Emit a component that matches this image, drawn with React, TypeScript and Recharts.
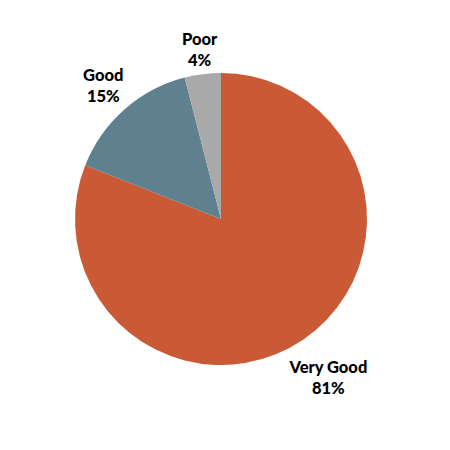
import React from "react";
import { PieChart, Pie, Cell } from "recharts";

const categories = ["Very Good", "Good", "Poor"];
const values = [81, 15, 4];
const percentLabels = ["81%", "15%", "4%"];

const COLORS = ["#C95A35", "#5E808F", "#A9A9A9"];
const LABEL_RADIUS = [191, 178, 171];

const data = categories.map((name, i) => ({ name, value: values[i], label: percentLabels[i] }));

const RAD = Math.PI / 180;

const renderLabel = (props: any) => {
  const { cx, cy, midAngle, index } = props;
  const r = LABEL_RADIUS[index];
  const x = cx + r * Math.cos(-midAngle * RAD);
  const y = cy + r * Math.sin(-midAngle * RAD);
  return (
    <text
      x={x}
      y={y}
      textAnchor="middle"
      fontFamily="Lato, 'Open Sans', sans-serif"
      fontWeight={900}
      fontSize={16.5}
      fill="#000"
    >
      <tspan x={x} dy={-4}>{data[index].name}</tspan>
      <tspan x={x} dy={21}>{data[index].label}</tspan>
    </text>
  );
};

export default function App() {
  return (
    <PieChart width={442} height={442}>
      <Pie
        data={data}
        dataKey="value"
        nameKey="name"
        cx={208}
        cy={206}
        outerRadius={146}
        startAngle={90}
        endAngle={-270}
        stroke="none"
        label={renderLabel}
        labelLine={false}
        isAnimationActive={false}
      >
        {data.map((d, i) => (
          <Cell key={d.name} fill={COLORS[i]} />
        ))}
      </Pie>
    </PieChart>
  );
}
